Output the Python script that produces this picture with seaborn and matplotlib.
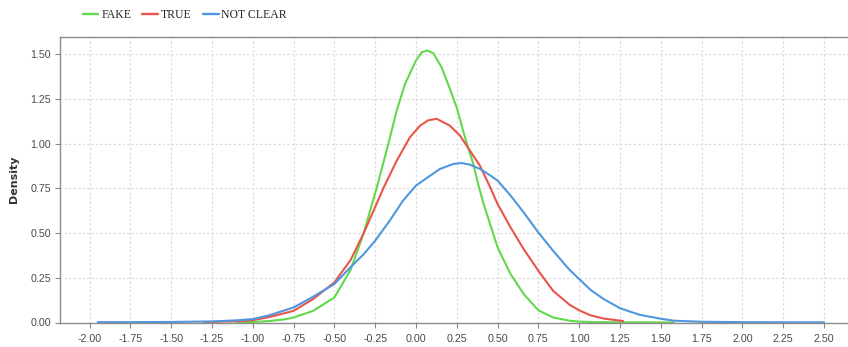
import numpy as np
import pandas as pd
import matplotlib
matplotlib.use("Agg")
import matplotlib.pyplot as plt
from matplotlib.lines import Line2D
from matplotlib.font_manager import FontProperties
import seaborn as sns

# ---- data ----
series_names = ["FAKE", "TRUE", "NOT CLEAR"]
series_colors = ["#62d94a", "#e8554b", "#5096e0"]

fake_x = [-1.10, -1.00, -0.90, -0.80, -0.75, -0.63, -0.50, -0.40, -0.32, -0.24,
          -0.18, -0.118, -0.067, 0.00, 0.035, 0.07, 0.106, 0.157, 0.208, 0.25,
          0.30, 0.351, 0.382, 0.412, 0.50, 0.58, 0.66, 0.75, 0.84, 0.94, 1.00,
          1.10, 1.25, 1.40, 1.58]
fake_y = [0.001, 0.003, 0.008, 0.018, 0.028, 0.065, 0.14, 0.295, 0.50, 0.755,
          0.96, 1.184, 1.333, 1.464, 1.51, 1.52, 1.505, 1.426, 1.305, 1.20,
          1.035, 0.886, 0.77, 0.67, 0.42, 0.27, 0.159, 0.068, 0.028, 0.010, 0.005,
          0.002, 0.001, 0.001, 0.0]

true_x = [-1.30, -1.10, -1.00, -0.90, -0.75, -0.63, -0.50, -0.40, -0.32, -0.25,
          -0.20, -0.118, -0.037, 0.025, 0.075, 0.127, 0.208, 0.27, 0.331, 0.392,
          0.45, 0.50, 0.58, 0.66, 0.75, 0.84, 0.94, 1.00, 1.07, 1.15, 1.27]
true_y = [0.002, 0.007, 0.013, 0.030, 0.065, 0.131, 0.224, 0.35, 0.50, 0.645,
          0.75, 0.904, 1.035, 1.10, 1.13, 1.138, 1.10, 1.044, 0.96, 0.876,
          0.765, 0.662, 0.531, 0.41, 0.289, 0.177, 0.100, 0.068, 0.040, 0.022, 0.008]

notclear_x = [-1.95, -1.75, -1.50, -1.25, -1.10, -1.00, -0.90, -0.75, -0.63, -0.50,
              -0.40, -0.32, -0.25, -0.16, -0.08, 0.00, 0.086, 0.147, 0.229, 0.28,
              0.331, 0.392, 0.45, 0.50, 0.58, 0.66, 0.75, 0.84, 0.94, 1.00, 1.07,
              1.15, 1.25, 1.37, 1.50, 1.58, 1.75, 2.00, 2.25, 2.50]
notclear_y = [0.002, 0.002, 0.003, 0.006, 0.012, 0.019, 0.040, 0.084, 0.144, 0.215,
              0.31, 0.382, 0.457, 0.57, 0.68, 0.765, 0.82, 0.858, 0.886, 0.891,
              0.882, 0.858, 0.825, 0.793, 0.709, 0.615, 0.503, 0.401, 0.295, 0.243,
              0.182, 0.131, 0.080, 0.043, 0.021, 0.010, 0.004, 0.002, 0.001, 0.001]

x_ticks = [-2.00, -1.75, -1.50, -1.25, -1.00, -0.75, -0.50, -0.25, 0.00, 0.25,
           0.50, 0.75, 1.00, 1.25, 1.50, 1.75, 2.00, 2.25, 2.50]
y_ticks = [0.00, 0.25, 0.50, 0.75, 1.00, 1.25, 1.50]

frames = []
for name, xs, ys in [("FAKE", fake_x, fake_y), ("TRUE", true_x, true_y),
                     ("NOT CLEAR", notclear_x, notclear_y)]:
    frames.append(pd.DataFrame({"x": xs, "density": ys, "series": name}))
df = pd.concat(frames, ignore_index=True)

sns.set_theme(style="white")
plt.rcParams["font.family"] = ["Liberation Sans", "DejaVu Sans"]

W, H = 848, 347
fig = plt.figure(figsize=(W / 100, H / 100), dpi=100)
left_px, right_px, top_px, bot_px = 60, 848, 36.7, 322.5
ax = fig.add_axes([left_px / W, 1 - bot_px / H, (right_px - left_px) / W,
                   (bot_px - top_px) / H])

sns.lineplot(data=df, x="x", y="density", hue="series", hue_order=series_names,
             palette=series_colors, estimator=None, sort=False, linewidth=1.5,
             ax=ax, legend=False)

ax.set_xlim(-2.181, 2.647)
ax.set_ylim(0, 1.597)
ax.set_xticks(x_ticks)
ax.set_yticks(y_ticks)
ax.set_xticklabels([f"{v:.2f}" for v in x_ticks])
ax.set_yticklabels([f"{v:.2f}" for v in y_ticks])
ax.tick_params(axis="both", labelsize=7.7, labelcolor="#4a4a4a", color="#888888",
               length=3.5, width=0.8, direction="out")
ax.tick_params(axis="x", pad=5, bottom=True)
ax.tick_params(axis="y", pad=3, left=True)
ax.set_xlabel("")
ax.grid(True, linestyle=(0, (2, 2)), color="#dadada", linewidth=0.8)
ax.set_axisbelow(True)
for side in ["top", "left", "bottom"]:
    ax.spines[side].set_color("#8c8c8c")
    ax.spines[side].set_linewidth(1.0)
ax.spines["right"].set_visible(False)

ax.set_ylabel("Density", fontsize=8, fontweight="bold", color="#333333",
              family=["Liberation Sans Narrow", "DejaVu Sans"])
ax.yaxis.set_label_coords((19 - left_px) / (right_px - left_px), 0.5)

handles = [Line2D([], [], color=c, linewidth=1.7) for c in series_colors]
fig.legend(handles, series_names, loc="center left",
           bbox_to_anchor=(82.7 / W, 1 - 15.5 / H), ncol=3, frameon=False,
           borderpad=0, borderaxespad=0, handlelength=1.32, handletextpad=0.25,
           columnspacing=0.95,
           prop=FontProperties(family="Liberation Serif", size=8.5))

fig.savefig("out.png", dpi=100)
